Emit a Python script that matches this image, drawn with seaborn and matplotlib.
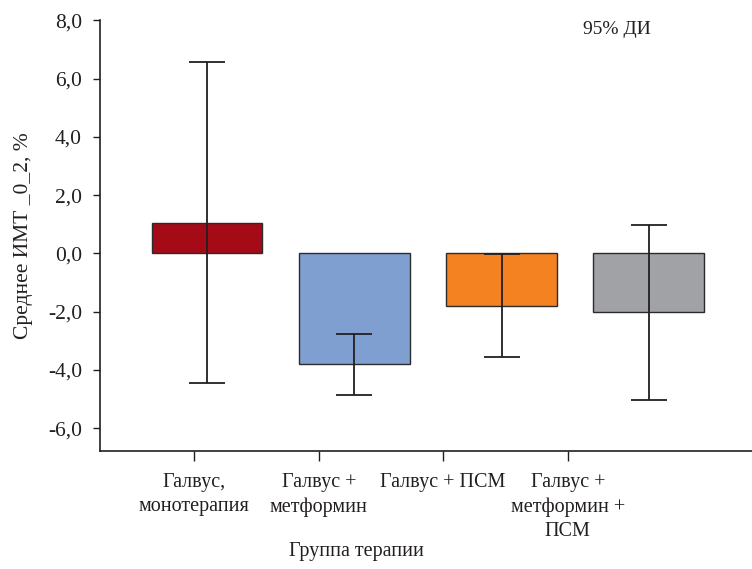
import matplotlib
matplotlib.use("Agg")
import matplotlib.pyplot as plt
import seaborn as sns
import numpy as np
import pandas as pd

categories = ["Галвус,\nмонотерапия", "Галвус +\nметформин", "Галвус + ПСМ", "Галвус +\nметформин +\nПСМ"]
means = [1.04, -3.81, -1.80, -2.02]
ci_low = [-4.46, -4.87, -3.56, -5.04]
ci_high = [6.56, -2.78, -0.01, 0.98]
colors = ["#a50b16", "#7f9fd1", "#f58220", "#a1a2a6"]
yticks = [-6, -4, -2, 0, 2, 4, 6, 8]

sns.set_style("white")
plt.rcParams["font.family"] = ["Liberation Serif", "DejaVu Serif"]

df = pd.DataFrame({"group": categories, "mean": means})

fig = plt.figure(figsize=(7.52, 5.69), dpi=100)
ax = fig.add_axes([0.133, 0.208, 0.867, 0.756])

sns.barplot(data=df, x="group", y="mean", hue="group", palette=colors,
            order=categories, hue_order=categories, legend=False, saturation=1,
            errorbar=None, width=0.753, edgecolor="#2b2b2b", linewidth=1.0,
            ax=ax, zorder=2)

x = np.arange(len(categories))
m = np.array(means)
yerr = np.vstack([m - np.array(ci_low), np.array(ci_high) - m])
ax.errorbar(x, m, yerr=yerr, fmt="none", ecolor="#231f20", elinewidth=1.3,
            capsize=13.2, capthick=1.3, zorder=3)

ax.set_ylim(-6.77, 8.0)
ax.set_xlim(-0.726, 3.70)
ax.set_yticks(yticks)
ax.set_yticklabels([f"{v:.1f}".replace(".", ",") for v in yticks], fontsize=15.5, color="#231f20")

tick_pos = [-0.088, 0.76, 1.60, 2.45]
ax.set_xticks(tick_pos)
ax.set_xticklabels(categories, fontsize=14.5, color="#231f20", linespacing=1.36)

for s in ["top", "right"]:
    ax.spines[s].set_visible(False)
for s in ["left", "bottom"]:
    ax.spines[s].set_color("#231f20")
    ax.spines[s].set_linewidth(1.2)

ax.tick_params(axis="y", direction="out", length=5, width=1.0, color="#231f20", pad=8, left=True)
ax.tick_params(axis="x", direction="out", length=7, width=1.0, color="#231f20", pad=9, bottom=True)

ax.set_ylabel("Среднее ИМТ _0_2, %", fontsize=15.5, color="#231f20")
ax.yaxis.set_label_coords(-0.103, 0.5)
ax.set_xlabel("Группа терапии", fontsize=14.5, color="#231f20")
ax.xaxis.set_label_coords(0.394, -0.212)

ax.text(0.741, 0.98, "95% ДИ", transform=ax.transAxes, fontsize=14, color="#231f20",
        ha="left", va="center")

fig.savefig("out.png", dpi=100)
